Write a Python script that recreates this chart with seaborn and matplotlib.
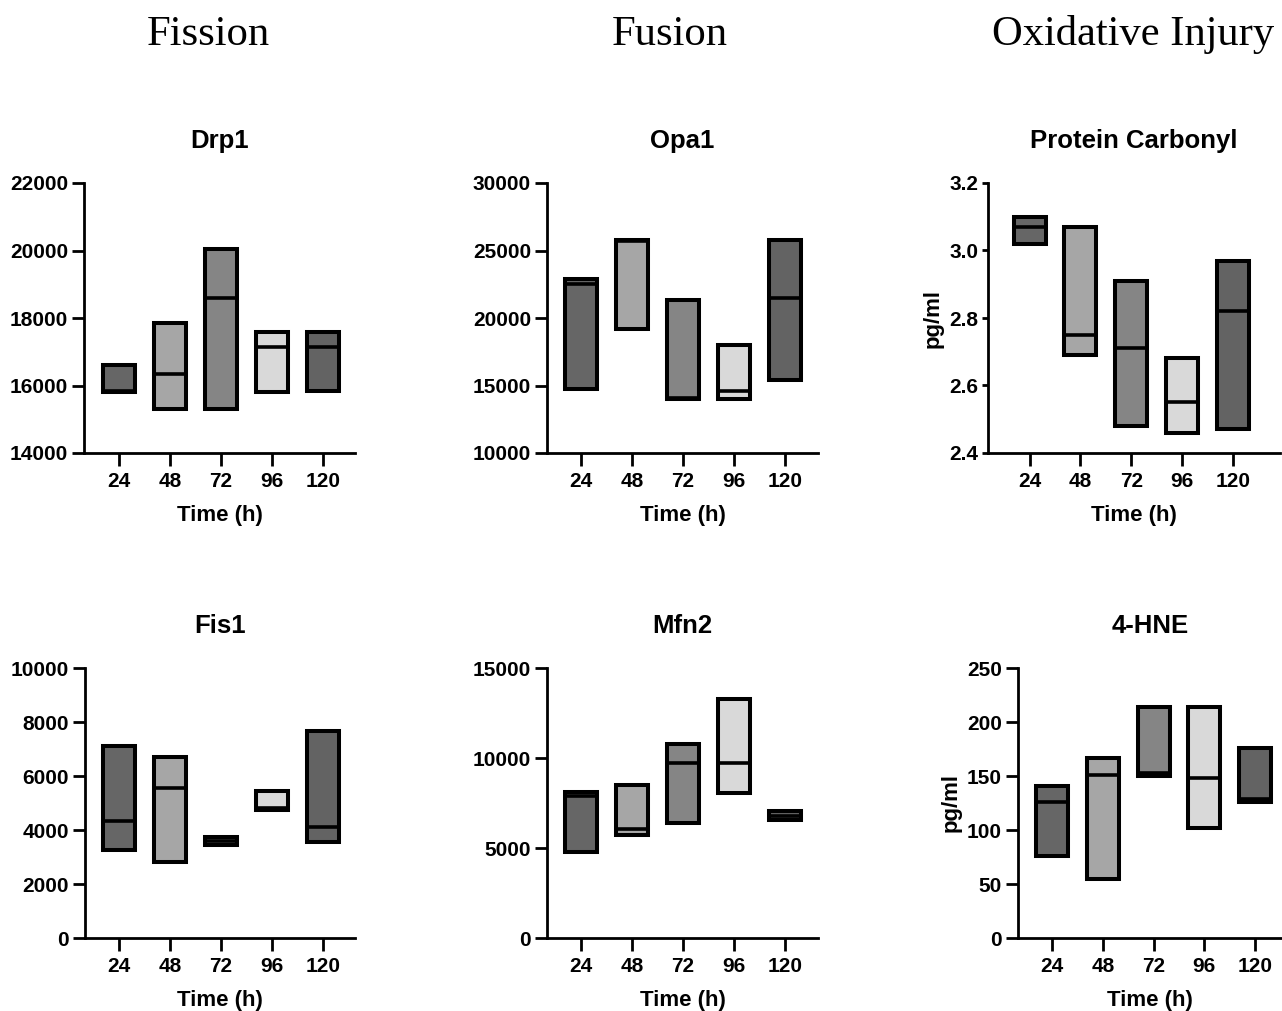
import numpy as np
import matplotlib
matplotlib.use("Agg")
import matplotlib.pyplot as plt
import seaborn as sns

# time points and bar colours (one per time point)
times = ["24", "48", "72", "96", "120"]
colors = ["#666666", "#a6a6a6", "#858585", "#d9d9d9", "#636363"]

# floating bars: min / median / max per time point
drp1_min = [15800, 15300, 15300, 15800, 15850]
drp1_med = [15850, 16350, 18600, 17150, 17150]
drp1_max = [16600, 17850, 20050, 17600, 17600]

opa1_min = [14750, 19200, 14000, 14000, 15400]
opa1_med = [22550, 25700, 14100, 14600, 21450]
opa1_max = [22900, 25800, 21300, 18000, 25750]

pc_min = [3.02, 2.69, 2.48, 2.46, 2.47]
pc_med = [3.07, 2.75, 2.71, 2.55, 2.82]
pc_max = [3.10, 3.07, 2.91, 2.68, 2.97]

fis1_min = [3250, 2800, 3450, 4750, 3550]
fis1_med = [4350, 5550, 3600, 4800, 4100]
fis1_max = [7100, 6700, 3750, 5450, 7650]

mfn2_min = [4800, 5700, 6400, 8050, 6550]
mfn2_med = [7900, 6050, 9700, 9700, 6800]
mfn2_max = [8100, 8500, 10800, 13300, 7050]

hne_min = [76, 55, 150, 102, 126]
hne_med = [126, 151, 153, 148, 129]
hne_max = [141, 167, 214, 214, 176]

sns.set_style("ticks", {"axes.edgecolor": "black", "text.color": "black",
                        "axes.labelcolor": "black", "xtick.color": "black",
                        "ytick.color": "black"})
plt.rcParams["font.family"] = ["Liberation Sans", "DejaVu Sans"]
plt.rcParams["font.weight"] = "bold"

fig = plt.figure(figsize=(12.82, 10.11), dpi=100)
W, H = 1282, 1011


def panel(left, top, width, xlim, title, lo, med, hi, ylim, yticks,
          ylabel=None, fmt=None, ytick_len=8.5):
    ax = fig.add_axes([left / W, 1 - (top + 270) / H, width / W, 270 / H])
    heights = np.array(hi) - np.array(lo)
    sns.barplot(x=times, y=heights, hue=times, palette=colors, legend=False,
                width=0.63, edgecolor="black", linewidth=2.9, ax=ax,
                saturation=1)
    for p, b in zip(ax.patches, lo):
        p.set_y(b)
    ax.hlines(med, np.arange(5) - 0.315, np.arange(5) + 0.315,
              color="black", linewidth=2.6, zorder=5)
    ax.set_xlim(*xlim)
    ax.set_ylim(*ylim)
    ax.set_yticks(yticks)
    if fmt:
        ax.set_yticklabels([fmt.format(v) for v in yticks])
    ax.set_title(title, fontsize=18.5, fontweight="bold", pad=25)
    ax.set_xlabel("Time (h)", fontsize=16, fontweight="bold", labelpad=10)
    ax.set_ylabel(ylabel if ylabel else "", fontsize=16, fontweight="bold",
                  labelpad=4)
    ax.tick_params(axis="x", width=2, length=9, labelsize=15, pad=5)
    ax.tick_params(axis="y", width=2, length=ytick_len, labelsize=15, pad=3)
    for s in ["left", "bottom"]:
        ax.spines[s].set_linewidth(2)
    sns.despine(ax=ax)
    return ax


panel(84, 183, 271, (-0.69, 4.63), "Drp1", drp1_min, drp1_med, drp1_max,
      (14000, 22000), np.arange(14000, 22001, 2000))
panel(547, 183, 271, (-0.67, 4.65), "Opa1", opa1_min, opa1_med, opa1_max,
      (10000, 30000), np.arange(10000, 30001, 5000))
panel(988, 183, 292, (-0.82, 4.93), "Protein Carbonyl", pc_min, pc_med, pc_max,
      (2.4, 3.2), [2.4, 2.6, 2.8, 3.0, 3.2], ylabel="pg/ml", fmt="{:.1f}",
      ytick_len=4)
panel(85, 668, 270, (-0.67, 4.63), "Fis1", fis1_min, fis1_med, fis1_max,
      (0, 10000), np.arange(0, 10001, 2000))
panel(547, 668, 271, (-0.67, 4.65), "Mfn2", mfn2_min, mfn2_med, mfn2_max,
      (0, 15000), np.arange(0, 15001, 5000))
panel(1018, 668, 264, (-0.67, 4.53), "4-HNE", hne_min, hne_med, hne_max,
      (0, 250), np.arange(0, 251, 50), ylabel="pg/ml")

for x, t in [(208, "Fission"), (670, "Fusion"), (1133, "Oxidative Injury")]:
    fig.text(x / W, 1 - 35 / H, t, ha="center", va="center",
             fontsize=30.7, family="Liberation Serif", fontweight="normal")

fig.savefig("out.png", dpi=100)
